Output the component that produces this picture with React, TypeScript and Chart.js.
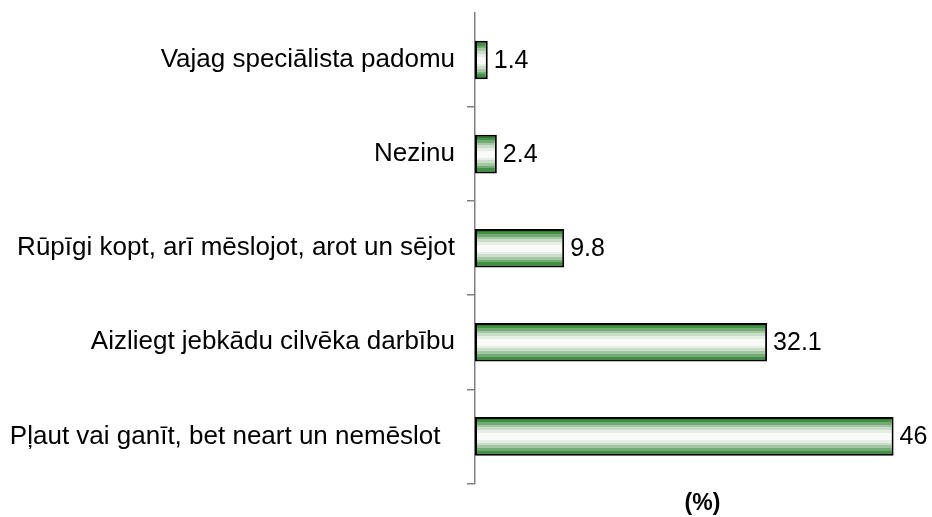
import React, { useEffect, useRef } from "react";
import { Chart, registerables } from "chart.js";

Chart.register(...registerables);

const categories = [
  "Vajag speciālista padomu",
  "Nezinu",
  "Rūpīgi kopt, arī mēslojot, arot un sējot",
  "Aizliegt jebkādu cilvēka darbību",
  "Pļaut vai ganīt, bet neart un nemēslot  ",
];
const values = [1.4, 2.4, 9.8, 32.1, 46];
const valueLabels = ["1.4", "2.4", "9.8", "32.1", "46"];
const axisTitle = "(%)";

const FONT = "Arial, 'Liberation Sans', sans-serif";

// stepped colour bands, top half (mirrored for bottom half)
const bandColors = ["#25822a", "#3f923f", "#74aa74", "#a3c6a3", "#cadcca", "#e6eee6", "#f9fbf9"];
const bandWidths = [0.07, 0.06, 0.07, 0.07, 0.07, 0.07, 0.09];

function makeGradient(ctx: CanvasRenderingContext2D, top: number, bottom: number) {
  const g = ctx.createLinearGradient(0, top, 0, bottom);
  let pos = 0;
  const stops: [number, string][] = [];
  bandColors.forEach((c, i) => {
    stops.push([pos, c]);
    pos += bandWidths[i];
    stops.push([Math.min(pos, 0.5), c]);
  });
  stops.forEach(([p, c]) => g.addColorStop(p, c));
  stops.slice().reverse().forEach(([p, c]) => g.addColorStop(1 - p, c));
  return g;
}

const gradientPlugin = {
  id: "barGradient",
  beforeDatasetsDraw(chart: any) {
    const meta = chart.getDatasetMeta(0);
    meta.data.forEach((el: any) => {
      const top = el.y - el.height / 2;
      const bottom = el.y + el.height / 2;
      if (isFinite(top) && isFinite(bottom) && el.options) {
        el.options = Object.assign({}, el.options, {
          backgroundColor: makeGradient(chart.ctx, top, bottom),
        });
      }
    });
  },
};

const valueLabelPlugin = {
  id: "valueLabels",
  afterDatasetsDraw(chart: any) {
    const ctx = chart.ctx;
    const meta = chart.getDatasetMeta(0);
    ctx.save();
    ctx.font = `25px ${FONT}`;
    ctx.fillStyle = "#000";
    ctx.textAlign = "left";
    ctx.textBaseline = "middle";
    meta.data.forEach((el: any, i: number) => {
      ctx.fillText(valueLabels[i], el.x + 6, el.y + 1);
    });
    ctx.restore();
  },
};

export default function App() {
  const ref = useRef<HTMLCanvasElement>(null);
  useEffect(() => {
    document.body.style.margin = "0";
    const canvas = ref.current!;
    const chart = new Chart(canvas, {
      type: "bar",
      data: {
        labels: categories,
        datasets: [
          {
            data: values,
            backgroundColor: "#8fbc8f",
            borderColor: "#000",
            borderWidth: 2,
            borderSkipped: false,
            categoryPercentage: 1,
            barPercentage: 0.41,
          },
        ],
      },
      options: {
        indexAxis: "y",
        animation: false,
        responsive: false,
        maintainAspectRatio: false,
        layout: { padding: { top: 0, right: 2, left: 0, bottom: 0 } },
        plugins: { legend: { display: false }, tooltip: { enabled: false } },
        scales: {
          x: {
            min: 0,
            max: 50,
            grid: { display: false, drawTicks: false },
            border: { display: false },
            ticks: { display: false },
            title: {
              display: true,
              text: axisTitle,
              color: "#000",
              font: { family: FONT, size: 23, weight: "bold", lineHeight: 1.2 },
              padding: { top: 6, bottom: 0 },
            },
          },
          y: {
            afterFit: (s: any) => {
              s.width = 475;
              s.paddingTop = 13;
              s.paddingBottom = 0;
            },
            grid: {
              display: true,
              drawOnChartArea: false,
              drawTicks: true,
              tickLength: 8,
              offset: true,
              color: (c: any) => (c.index === 0 ? "rgba(0,0,0,0)" : "#808080"),
              lineWidth: 1.5,
            },
            border: { display: true, color: "#808080", width: 1.5 },
            ticks: {
              color: "#000",
              padding: 12,
              font: { family: FONT, size: 26, lineHeight: 1.0 },
            },
          },
        },
      },
      plugins: [gradientPlugin, valueLabelPlugin],
    });
    return () => chart.destroy();
  }, []);
  return (
    <div style={{ width: 932, height: 517 }}>
      <canvas ref={ref} width={932} height={517} style={{ display: "block" }} />
    </div>
  );
}
